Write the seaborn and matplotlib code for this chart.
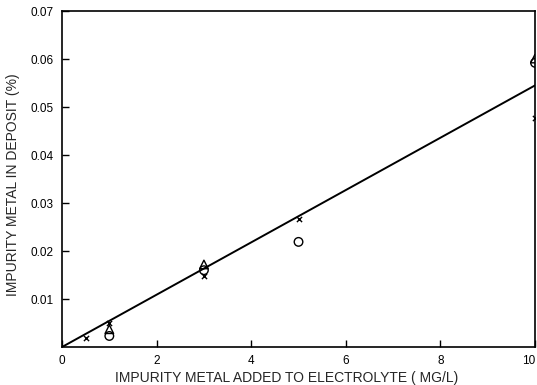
import matplotlib
matplotlib.use("Agg")
import matplotlib.pyplot as plt
import seaborn as sns
import pandas as pd

# Impurity metal added to electrolyte (mg/L) and resulting content in deposit (%)
x_cross = [0.5, 1.0, 3.0, 5.0, 10.0]
y_cross = [0.0019, 0.0050, 0.0148, 0.0267, 0.0478]

x_triangle = [1.0, 3.0, 10.0]
y_triangle = [0.0037, 0.0172, 0.0601]

x_circle = [1.0, 3.0, 5.0, 10.0]
y_circle = [0.0023, 0.0160, 0.0219, 0.0592]

# Fitted line through the origin
x_fit = [0.0, 10.0]
y_fit = [0.0, 0.0545]

x_ticks = [0, 2, 4, 6, 8, 10]
x_tick_labels = ["0", "2", "4", "6", "8", "10"]
y_ticks = [0.01, 0.02, 0.03, 0.04, 0.05, 0.06, 0.07]
y_tick_labels = ["0.01", "0.02", "0.03", "0.04", "0.05", "0.06", "0.07"]

sns.set_style("ticks")
plt.rcParams["font.family"] = ["Liberation Sans", "DejaVu Sans"]

fig = plt.figure(figsize=(5.37, 3.85), dpi=100)
ax = fig.add_axes([0.1155, 0.0987, 0.8808, 0.8727])

fit = pd.DataFrame({"x": x_fit, "y": y_fit})
sns.lineplot(data=fit, x="x", y="y", ax=ax, color="black", linewidth=1.4)

crosses = pd.DataFrame({"x": x_cross, "y": y_cross})
sns.scatterplot(data=crosses, x="x", y="y", ax=ax, marker="x", s=14,
                color="black", linewidth=1.0, zorder=3)

triangles = pd.DataFrame({"x": x_triangle, "y": y_triangle})
sns.scatterplot(data=triangles, x="x", y="y", ax=ax, marker="^", s=38,
                facecolor="none", edgecolor="black", linewidth=1.0, zorder=3)

circles = pd.DataFrame({"x": x_circle, "y": y_circle})
sns.scatterplot(data=circles, x="x", y="y", ax=ax, marker="o", s=38,
                facecolor="none", edgecolor="black", linewidth=1.0, zorder=3)

ax.set_xlim(0, 10)
ax.set_ylim(0, 0.07)
ax.set_xticks(x_ticks)
ax.set_xticklabels(x_tick_labels)
ax.set_yticks(y_ticks)
ax.set_yticklabels(y_tick_labels)
ax.tick_params(direction="in", length=5, width=1.0, labelsize=8.5,
               colors="black", pad=6)
# keep the last x label inside the figure edge
ax.get_xticklabels()[-1].set_horizontalalignment("right")

for side in ["left", "right", "top", "bottom"]:
    ax.spines[side].set_visible(True)
    ax.spines[side].set_color("black")
    ax.spines[side].set_linewidth(1.2)

ax.set_xlabel("IMPURITY METAL ADDED TO ELECTROLYTE ( MG/L)", fontsize=10)
ax.set_ylabel("IMPURITY METAL IN DEPOSIT (%)", fontsize=10)
ax.xaxis.set_label_coords(0.474, -0.07)
ax.yaxis.set_label_coords(-0.089, 0.482)

fig.savefig("out.png", dpi=100)
